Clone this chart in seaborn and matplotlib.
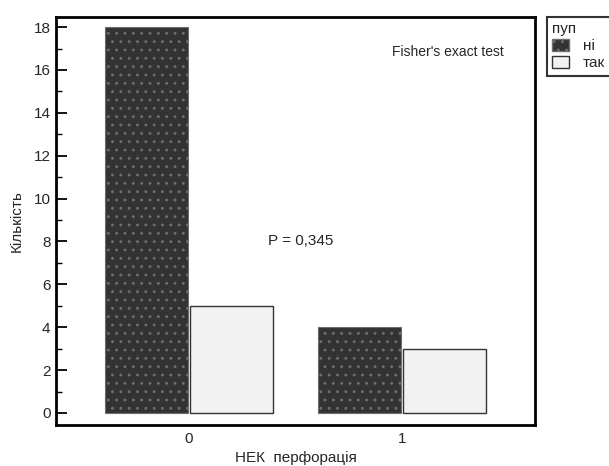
import pandas as pd
import matplotlib
matplotlib.use("Agg")
import matplotlib.pyplot as plt
from matplotlib.patches import Patch
from matplotlib.ticker import MultipleLocator
import seaborn as sns

# data
groups = ["0", "1"]
hue_levels = ["ні", "так"]
counts_ni = [18, 4]
counts_tak = [5, 3]

df = pd.DataFrame({
    "НЕК перфорація": groups * 2,
    "пуп": [hue_levels[0]] * 2 + [hue_levels[1]] * 2,
    "Кількість": counts_ni + counts_tak,
})

sns.set_theme(style="white")
plt.rcParams["font.family"] = ["Liberation Sans", "DejaVu Sans"]
plt.rcParams["hatch.linewidth"] = 0.9

fig = plt.figure(figsize=(6.09, 4.66), dpi=100)
ax = fig.add_axes([0.092, 0.088, 0.7865, 0.8755])

dark = "#333333"
light = "#f2f2f2"
sns.barplot(data=df, x="НЕК перфорація", y="Кількість", hue="пуп",
            hue_order=hue_levels, palette=[dark, light], width=0.8,
            gap=0.02, legend=False, ax=ax)

for bar in ax.containers[0]:
    bar.set_edgecolor("#6e6e6e")
    bar.set_linewidth(0.8)
    bar.set_hatch("..")
for bar in ax.containers[1]:
    bar.set_edgecolor("#333333")
    bar.set_linewidth(1.0)

ax.set_xlim(-0.624, 1.624)
ax.set_ylim(-0.56, 18.47)
ax.yaxis.set_major_locator(MultipleLocator(2))
ax.yaxis.set_minor_locator(MultipleLocator(1))
ax.tick_params(axis="y", which="major", direction="in", length=8, width=1.3,
               color="black", left=True, labelsize=11, pad=4)
ax.tick_params(axis="y", which="minor", direction="in", length=4, width=1.0,
               color="black", left=True)
ax.tick_params(axis="x", length=0, labelsize=11, pad=5)
for sp in ax.spines.values():
    sp.set_color("black")
    sp.set_linewidth(2)

ax.set_xlabel("НЕК  перфорація", fontsize=11, labelpad=4)
ax.set_ylabel("Кількість", fontsize=11, labelpad=7)

ax.text(1.216, 16.84, "Fisher's exact test", fontsize=10, ha="center", va="center")
ax.text(0.526, 8.02, "P = 0,345", fontsize=11, ha="center", va="center")

handles = [Patch(facecolor=dark, edgecolor="#6e6e6e", hatch="..", label="ні"),
           Patch(facecolor=light, edgecolor="#333333", label="так")]
leg = fig.legend(handles=handles, title="пуп", loc="upper left",
                 bbox_to_anchor=(547 / 609, 1 - 17 / 466), fontsize=11,
                 title_fontsize=11, frameon=True, fancybox=False,
                 borderpad=0.35, handlelength=1.1, handleheight=0.9,
                 handletextpad=0.9, labelspacing=0.15, borderaxespad=0)
leg._legend_box.align = "left"
leg.get_frame().set_edgecolor("black")
leg.get_frame().set_linewidth(1.5)

fig.savefig("out.png", dpi=100)
